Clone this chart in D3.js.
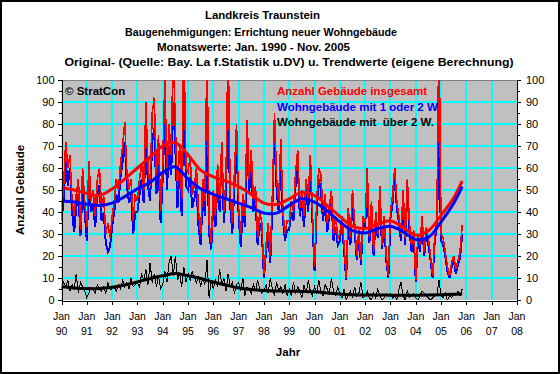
<!DOCTYPE html>
<html>
<head>
<meta charset="utf-8">
<script src="https://cdn.jsdelivr.net/npm/d3@7"></script>
<style>
  body { margin: 0; background: #fff; }
  svg { display: block; font-family: "Liberation Sans", Arial, sans-serif; }
</style>
</head>
<body>
<svg id="chart" width="560" height="374"></svg>
<script>
const titleLines = [
  "Landkreis Traunstein",
  "Baugenehmigungen: Errichtung neuer Wohngebäude",
  "Monatswerte: Jan. 1990 - Nov. 2005",
  "Original- (Quelle: Bay. La f.Statistik u.DV) u. Trendwerte (eigene Berechnung)"
]
const seriesNames = ["Anzahl Gebäude insgesamt", "Wohngebäude mit 1 oder 2 W", "Wohngebäude mit  über 2 W."]
const yearLabels = ["90","91","92","93","94","95","96","97","98","99","00","01","02","03","04","05","06","07","08"]
const yTicks = [0, 10, 20, 30, 40, 50, 60, 70, 80, 90, 100]

// monthly values Jan 1990 - Nov 2005
const total = [
  40, 52, 72, 60, 66, 45, 38, 48, 55, 32, 60, 45,
  33, 63, 45, 50, 38, 55, 60, 42, 47, 30, 35, 28,
  38, 45, 55, 50, 62, 70, 81, 58, 50, 55, 36, 48,
  45, 55, 62, 50, 90, 60, 52, 85, 92, 55, 75, 40,
  62, 100, 58, 80, 66, 115, 78, 52, 70, 46, 120, 60,
  58, 65, 48, 52, 60, 40, 30, 55, 45, 115, 35, 26,
  50, 38, 62, 45, 72, 40, 55, 118, 48, 35, 58, 80,
  42, 30, 48, 38, 82, 55, 68, 45, 52, 28, 40, 35,
  12, 25, 35, 20, 48, 85, 55, 45, 73, 40, 30, 36,
  36, 45, 40, 58, 68, 42, 50, 38, 55, 46, 66, 40,
  15, 45, 60, 57, 40, 48, 35, 42, 50, 30, 38, 28,
  30, 38, 25, 10, 42, 28, 50, 35, 20, 32, 18, 38,
  35, 60, 28, 45, 22, 40, 30, 52, 25, 38, 20, 11,
  40, 48, 60, 45, 38, 30, 50, 28, 55, 35, 25, 32,
  9, 30, 25, 38, 22, 33, 28, 20, 11, 30, 36, 125,
  30, 28, 22, 15, 11, 17, 20, 14, 18, 22, 34
]
const oneTwo = [
  36, 45, 63, 52, 60, 40, 31, 42, 48, 29, 50, 40,
  27, 55, 40, 43, 33, 48, 52, 36, 40, 26, 22, 24,
  33, 40, 48, 44, 56, 63, 72, 52, 44, 48, 30, 40,
  40, 48, 55, 44, 75, 52, 45, 72, 78, 48, 63, 35,
  55, 85, 50, 70, 57, 90, 68, 42, 60, 38, 97, 52,
  50, 56, 42, 46, 52, 33, 25, 48, 38, 74, 30, 23,
  44, 33, 55, 40, 70, 35, 50, 88, 43, 30, 52, 74,
  38, 24, 42, 33, 72, 49, 60, 40, 46, 25, 35, 31,
  10, 22, 30, 17, 42, 78, 50, 40, 65, 36, 27, 32,
  32, 40, 36, 52, 62, 38, 45, 33, 50, 40, 62, 36,
  13, 40, 55, 50, 36, 44, 31, 38, 45, 27, 33, 25,
  27, 35, 22, 9, 38, 25, 46, 32, 18, 30, 16, 35,
  33, 55, 26, 42, 20, 37, 28, 48, 23, 35, 18, 10,
  37, 44, 57, 42, 35, 27, 47, 25, 50, 32, 22, 30,
  8, 27, 22, 35, 20, 30, 25, 18, 10, 27, 33, 73,
  27, 25, 20, 13, 10, 15, 18, 12, 16, 19, 30
]
const overTwo = [
  5, 8, 6, 9, 4, 7, 5, 12, 3, 8, 6, 4,
  1, 3, 6, 5, 3, 7, 5, 4, 6, 3, 8, 5,
  5, 6, 4, 7, 5, 9, 6, 8, 5, 10, 6, 7,
  8, 6, 12, 9, 14, 7, 17, 8, 12, 6, 11, 5,
  7, 13, 8, 17, 20, 11, 20, 9, 12, 6, 15, 8,
  12, 9, 13, 10, 8, 11, 6, 10, 7, 18, 1, 9,
  5, 9, 6, 14, 7, 10, 4, 12, 6, 8, 3, 7,
  8, 4, 10, 2, 6, 5, 3, 7, 4, 9, 5, 3,
  4, 7, 3, 10, 5, 2, 8, 4, 6, 3, 7, 2,
  5, 2, 8, 3, 6, 4, 1, 7, 3, 9, 4, 2,
  6, 3, 9, 4, 2, 7, 5, 3, 10, 4, 2, 6,
  3, 1, 5, 0, 2, 4, 1, 6, 2, 3, 8, 1,
  2, 4, 1, 0, 3, 1, 5, 2, 0, 1, 3, 2,
  3, 1, 2, 0, 5, 8, 2, 0, 4, 1, 2, 3,
  1, 0, 2, 4, 3, 2, 1, 0, 1, 2, 2, 9,
  2, 1, 3, 0, 2, 1, 3, 2, 4, 2, 5
]

// trend values, read every half year (month index from Jan 1990)
const trendMonths = [0, 6, 12, 18, 24, 30, 36, 42, 48, 54, 60, 66, 72, 78, 84, 90, 96, 102,
  108, 114, 120, 126, 132, 138, 144, 150, 156, 162, 168, 174, 180, 186, 190]
const totalTrend = [51, 50, 48.5, 47.5, 50.5, 55, 60, 65, 70, 71.5, 66, 59, 56, 54, 51.5, 48, 44, 43.5,
  46, 49, 47.5, 43, 38, 33.5, 32.5, 34.5, 36, 33, 29.5, 31.5, 38.5, 46.5, 54]
const oneTwoTrend = [45, 44.5, 43.5, 43, 44, 47, 50.5, 53.5, 58, 60.5, 55, 50.5, 48, 46, 44, 42, 39.5, 39.5,
  43, 46, 44.5, 40.5, 35.5, 31.5, 30.5, 32.5, 33.5, 31, 27.5, 28.5, 35.5, 44, 51.5]
const overTwoTrend = [6, 5.5, 5.2, 5.2, 5.8, 6.8, 8.2, 9.8, 11, 12, 11, 9.8, 8.2, 6.8, 5.5, 4.8, 4.3, 4.1,
  4, 3.9, 3.7, 3.2, 2.7, 2.4, 2.3, 2.3, 2.2, 2.2, 2.2, 2.3, 2.4, 2.6, 2.8]

const colors = ["#ff0000", "#0000ff", "#000000"]
const margin = { top: 80, right: 43, bottom: 74, left: 61 }
const width = 560, height = 374

const svg = d3.select("#chart")

svg.append("rect")
  .attr("width", width).attr("height", height)
  .attr("fill", "#fff")

const x = d3.scaleLinear()
  .domain([0, 216])
  .range([margin.left + 0.5, width - margin.right])

const y = d3.scaleLinear()
  .domain([0, 100])
  .range([height - margin.bottom, margin.top])

// plot background
svg.append("rect")
  .attr("x", x(0)).attr("y", y(100))
  .attr("width", x(216) - x(0)).attr("height", y(0) - y(100))
  .attr("fill", "#c0c0c0")

// grid
const grid = svg.append("g")
  .attr("stroke", "#00ffff").attr("stroke-width", 2)
  .attr("shape-rendering", "crispEdges")
grid.selectAll(".h").data(yTicks.slice(1, -1)).join("line")
  .attr("x1", x(0)).attr("x2", x(216))
  .attr("y1", d => y(d)).attr("y2", d => y(d))
grid.selectAll(".v").data(d3.range(12, 216, 12)).join("line")
  .attr("x1", d => x(d)).attr("x2", d => x(d))
  .attr("y1", y(0)).attr("y2", y(100))

svg.append("line")
  .attr("x1", x(0)).attr("x2", x(216))
  .attr("y1", y(100) + 0.5).attr("y2", y(100) + 0.5)
  .attr("stroke", "#808080")
  .attr("shape-rendering", "crispEdges")

svg.append("clipPath").attr("id", "plot-clip")
  .append("rect")
  .attr("x", x(0)).attr("y", y(100))
  .attr("width", x(216) - x(0)).attr("height", y(0) - y(100))

const plot = svg.append("g").attr("clip-path", "url(#plot-clip)")

const line = d3.line()
  .x((d, i) => x(i))
  .y(d => y(d))

const trendLine = d3.line()
  .x(d => x(d[0]))
  .y(d => y(d[1]))
  .curve(d3.curveCatmullRom.alpha(0.5))

// blue underneath, red on top, black last
const rawOrder = [1, 0, 2]
const raw = [total, oneTwo, overTwo]
const rawWidths = [1.6, 2, 1]
rawOrder.forEach(k => {
  plot.append("path")
    .datum(raw[k])
    .attr("fill", "none")
    .attr("stroke", colors[k])
    .attr("stroke-width", rawWidths[k])
    .attr("shape-rendering", "crispEdges")
    .attr("d", line)
})

const trends = [totalTrend, oneTwoTrend, overTwoTrend]
trends.forEach((values, k) => {
  plot.append("path")
    .datum(d3.zip(trendMonths, values))
    .attr("fill", "none")
    .attr("stroke", colors[k])
    .attr("stroke-width", 3)
    .attr("d", trendLine)
})

// axes
const yAxisLeft = g => g
  .attr("transform", `translate(${margin.left + 0.5},0)`)
  .call(d3.axisLeft(y).tickValues(yTicks).tickSize(4).tickPadding(3).tickSizeOuter(0))
  .call(g => g.append("g").call(d3.axisLeft(y).tickValues(d3.range(5, 100, 10)).tickSize(3).tickFormat("")))

const yAxisRight = g => g
  .attr("transform", `translate(${width - margin.right},0)`)
  .call(d3.axisRight(y).tickValues(yTicks).tickSize(4).tickPadding(5).tickSizeOuter(0))
  .call(g => g.append("g").call(d3.axisRight(y).tickValues(d3.range(5, 100, 10)).tickSize(3).tickFormat("")))

const xAxis = g => g
  .attr("transform", `translate(0,${height - margin.bottom + 0.5})`)
  .call(d3.axisBottom(x).tickValues(d3.range(0, 217, 12)).tickSize(4).tickSizeOuter(0).tickFormat(""))

svg.append("g").call(yAxisLeft)
svg.append("g").call(yAxisRight)
svg.append("g").call(xAxis)

svg.selectAll(".tick text")
  .attr("font-family", "'Liberation Sans', Arial, sans-serif")
  .attr("font-size", 11)
  .attr("fill", "#000")
svg.selectAll(".domain, .tick line")
  .attr("stroke", "#000")
  .attr("shape-rendering", "crispEdges")

// two-line x labels
const xLabels = svg.append("g")
  .attr("font-size", 10.5)
  .attr("text-anchor", "middle")
xLabels.selectAll("text").data(yearLabels).join("text")
  .attr("x", (d, i) => x(i * 12))
  .attr("y", 320)
  .call(t => t.append("tspan").attr("x", (d, i) => x(i * 12)).text("Jan"))
  .call(t => t.append("tspan").attr("x", (d, i) => x(i * 12)).attr("dy", 15).text(d => d))

// titles
const titleCenters = [262.5, 261, 253.5, 289]
const titleWidths = [115, 272, 193, 449]
const titleBaselines = [19, 36, 51, 66]
svg.append("g")
  .attr("font-size", 11.5).attr("font-weight", "bold").attr("text-anchor", "middle")
  .selectAll("text").data(titleLines).join("text")
  .attr("x", (d, i) => titleCenters[i])
  .attr("y", (d, i) => titleBaselines[i])
  .attr("textLength", (d, i) => titleWidths[i])
  .attr("lengthAdjust", "spacingAndGlyphs")
  .text(d => d)

svg.append("text")
  .attr("x", 288).attr("y", 356)
  .attr("font-size", 11.5).attr("font-weight", "bold").attr("text-anchor", "middle")
  .text("Jahr")

svg.append("text")
  .attr("transform", "translate(24,190) rotate(-90)")
  .attr("font-size", 11.5).attr("font-weight", "bold").attr("text-anchor", "middle")
  .text("Anzahl Gebäude")

svg.append("text")
  .attr("x", 65).attr("y", 95)
  .attr("font-size", 11.5).attr("font-weight", "bold")
  .text("© StratCon")

// legend
svg.append("g")
  .attr("font-size", 11.5).attr("font-weight", "bold")
  .selectAll("text").data(seriesNames).join("text")
  .attr("x", 277)
  .attr("y", (d, i) => 95 + i * 15.5)
  .attr("fill", (d, i) => colors[i])
  .style("white-space", "pre")
  .text(d => d)

// outer border
svg.append("rect")
  .attr("x", 1).attr("y", 1)
  .attr("width", width - 2).attr("height", height - 2)
  .attr("fill", "none").attr("stroke", "#000").attr("stroke-width", 2)
</script>
</body>
</html>
